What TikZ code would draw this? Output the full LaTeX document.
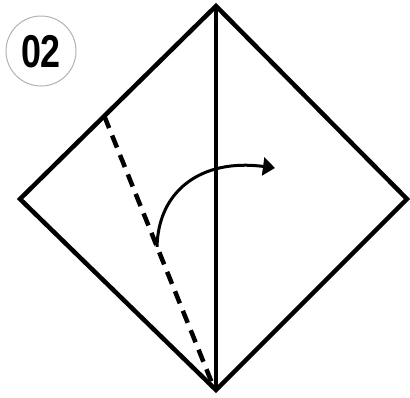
\documentclass[tikz,border=0pt]{standalone}
\usepackage{fontspec}
\setmainfont{Liberation Sans}
\usetikzlibrary{arrows.meta,calc}
\tikzset{
  fold/.style={line width=4.5pt, line join=miter, black},
  valley/.style={line width=4.5pt, dash pattern=on 13pt off 8pt, black},
  turn/.style={line width=3pt, -{Triangle[length=12pt,width=18pt]}, black},
  badge/.style={circle, draw=black!30, line width=1pt, minimum size=70pt, inner sep=0pt}
}
\begin{document}
\begin{tikzpicture}[x=1pt,y=-1pt]
\useasboundingbox (0,0) rectangle (410,397);
\coordinate (T) at (216,6);
\coordinate (L) at (20,199);
\coordinate (R) at (407,199);
\coordinate (B) at (216,390);
\draw[fold] (T) -- (R) -- (B) -- (L) -- cycle;
\draw[fold] (T) -- (B);
\coordinate (D1) at ($(L)!0.43!(T)$);
\coordinate (D2) at (212,383);
\draw[valley] (D1) -- (D2);
\coordinate (A1) at ($(D1)!0.49!(D2)$);
\coordinate (A2) at (275,168);
\draw[turn] (A1) .. controls (158,192) and (200,158) .. (A2);
\node[badge] (n) at (41,51) {};
\node (num) at (41,52) {\scalebox{0.78}[1]{\fontsize{46}{46}\selectfont\bfseries 02}};
\end{tikzpicture}
\end{document}
